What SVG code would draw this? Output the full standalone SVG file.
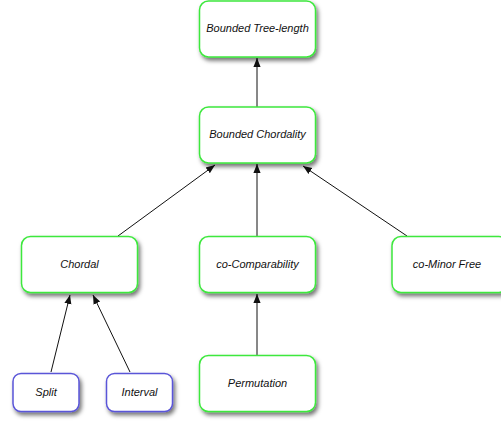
<svg xmlns="http://www.w3.org/2000/svg" width="501" height="422" viewBox="0 0 501 422">
<style>
.box{fill:#fff;stroke-width:1.5}
.g{stroke:#3ee83e}
.b{stroke:#5a55d8}
text{font-family:"Liberation Sans",Arial,sans-serif;font-size:11px;font-style:italic;fill:#111;text-anchor:middle}
.edge{stroke:#111;stroke-width:1;fill:none;marker-end:url(#ah)}
</style>
<defs>
<filter id="sh" x="-20%" y="-20%" width="150%" height="160%">
<feDropShadow dx="2" dy="3" stdDeviation="2" flood-color="#000" flood-opacity="0.55"/>
</filter>
<marker id="ah" viewBox="0 0 10 10" refX="10" refY="5" markerWidth="9" markerHeight="9" markerUnits="userSpaceOnUse" orient="auto">
<path d="M0,1 L10,5 L0,9 Z" fill="#111"/>
</marker>
</defs>
<g id="connectors">
<line class="edge" x1="257" y1="107" x2="257" y2="58"/>
<line class="edge" x1="118" y1="236" x2="215" y2="165"/>
<line class="edge" x1="257" y1="236" x2="257" y2="164"/>
<line class="edge" x1="407" y1="236" x2="303" y2="166"/>
<line class="edge" x1="51" y1="372" x2="70" y2="295"/>
<line class="edge" x1="130" y1="372" x2="93" y2="295"/>
<line class="edge" x1="257" y1="355" x2="257" y2="294"/>
</g>
<g id="n-treelength">
<rect class="box g" x="199.5" y="1" width="116" height="56" rx="9" filter="url(#sh)"/>
<text x="257.5" y="32">Bounded Tree-length</text>
</g>
<g id="n-chordality">
<rect class="box g" x="199.5" y="107" width="116" height="56" rx="9" filter="url(#sh)"/>
<text x="257.5" y="138">Bounded Chordality</text>
</g>
<g id="n-chordal">
<rect class="box g" x="21.5" y="236.5" width="116" height="56" rx="9" filter="url(#sh)"/>
<text x="79.5" y="268">Chordal</text>
</g>
<g id="n-cocomparability">
<rect class="box g" x="199.5" y="236.5" width="116" height="56" rx="9" filter="url(#sh)"/>
<text x="257.5" y="268">co-Comparability</text>
</g>
<g id="n-cominorfree">
<rect class="box g" x="392" y="236.5" width="116" height="56" rx="9" filter="url(#sh)"/>
<text x="447" y="268">co-Minor Free</text>
</g>
<g id="n-split">
<rect class="box b" x="13" y="373.5" width="66" height="38" rx="8" filter="url(#sh)"/>
<text x="46" y="396">Split</text>
</g>
<g id="n-interval">
<rect class="box b" x="106.5" y="373.5" width="66" height="38" rx="8" filter="url(#sh)"/>
<text x="139.5" y="396">Interval</text>
</g>
<g id="n-permutation">
<rect class="box g" x="199.5" y="355.5" width="116" height="56" rx="9" filter="url(#sh)"/>
<text x="257.5" y="387">Permutation</text>
</g>
</svg>
